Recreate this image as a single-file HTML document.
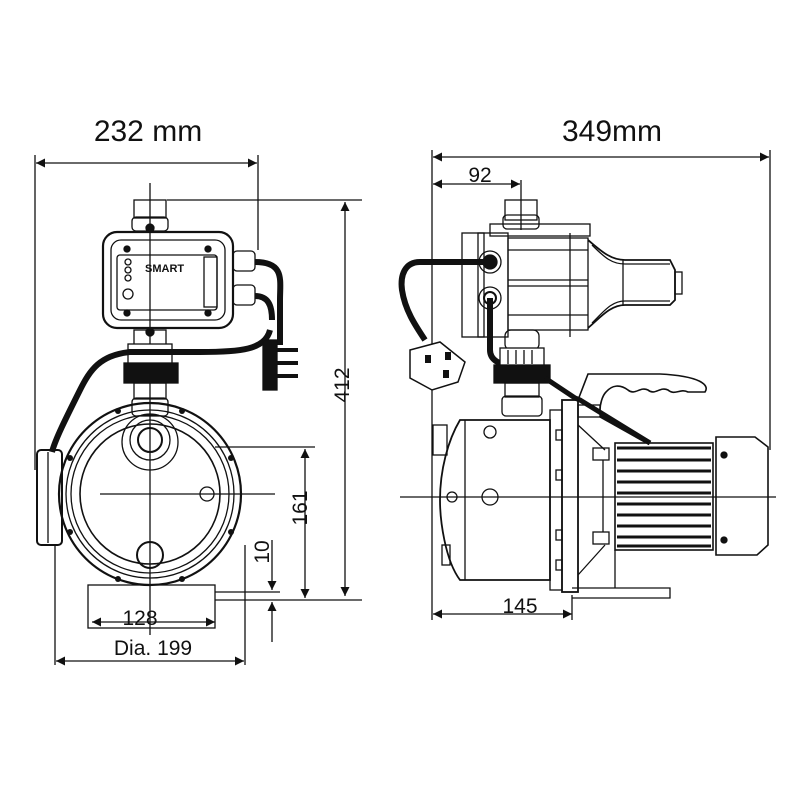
<!DOCTYPE html>
<html><head><meta charset="utf-8"><style>
html,body{margin:0;padding:0;background:#fff;}
svg{display:block}
text{font-family:"Liberation Sans",Arial,sans-serif;fill:#111}
</style></head><body>
<svg width="800" height="800" viewBox="0 0 800 800" xmlns="http://www.w3.org/2000/svg">
<defs>
<marker id="a" viewBox="0 0 10 10" refX="10" refY="5" markerWidth="16" markerHeight="9" markerUnits="userSpaceOnUse" orient="auto-start-reverse"><path d="M0,0L10,5L0,10z" fill="#111"/></marker>
</defs>
<rect width="800" height="800" fill="#fff"/>
<g stroke="#111" stroke-width="1.3" fill="none">
<!-- ===== LEFT VIEW ===== -->
<line x1="35" y1="155" x2="35" y2="470"/>
<line x1="258" y1="155" x2="258" y2="250"/>
<line x1="36" y1="163" x2="257" y2="163" marker-start="url(#a)" marker-end="url(#a)"/>
<line x1="150" y1="183" x2="150" y2="635"/>
<rect x="134" y="200" width="32" height="18"/>
<rect x="132" y="217" width="36" height="14" rx="4"/>
<rect x="103" y="232" width="130" height="96" rx="14" stroke-width="2.2"/>
<rect x="111" y="240" width="114" height="80" rx="10"/>
<rect x="117" y="255" width="100" height="55" rx="3"/>
<rect x="204" y="257" width="13" height="50"/>
<circle cx="128" cy="262" r="3"/><circle cx="128" cy="270" r="3"/><circle cx="128" cy="278" r="3"/><circle cx="128" cy="294" r="5"/>
<text x="145" y="272" font-size="11" font-weight="bold" stroke="none">SMART</text>
<circle cx="127" cy="249" r="3" fill="#111"/><circle cx="208" cy="249" r="3" fill="#111"/><circle cx="127" cy="313" r="3" fill="#111"/><circle cx="208" cy="313" r="3" fill="#111"/>
<circle cx="150" cy="228" r="4" fill="#111"/><circle cx="150" cy="332" r="4" fill="#111"/>
<rect x="233" y="251" width="22" height="20" rx="4"/>
<rect x="233" y="285" width="22" height="20" rx="4"/>
<rect x="134" y="330" width="32" height="15"/>
<rect x="128" y="344" width="44" height="20" fill="#fff"/>
<rect x="124" y="363" width="54" height="20" fill="#111"/>
<rect x="134" y="383" width="32" height="16"/>
<rect x="132" y="398" width="36" height="18" rx="4"/>
<circle cx="150" cy="494" r="91" stroke-width="2.2"/>
<circle cx="150" cy="494" r="84"/>
<circle cx="150" cy="494" r="79"/>
<circle cx="150" cy="494" r="70" stroke-width="1.6"/>
<circle cx="150" cy="440" r="20"/>
<circle cx="150" cy="440" r="12" stroke-width="2"/>
<circle cx="150" cy="442" r="28"/>
<circle cx="150" cy="555" r="13" stroke-width="2"/>
<circle cx="207" cy="494" r="7"/>
<line x1="100" y1="494" x2="275" y2="494"/>
<g fill="#111" stroke="none">
<circle cx="118" cy="411" r="3"/><circle cx="182" cy="411" r="3"/><circle cx="70" cy="458" r="3"/><circle cx="231" cy="458" r="3"/>
<circle cx="70" cy="532" r="3"/><circle cx="231" cy="532" r="3"/><circle cx="118" cy="579" r="3"/><circle cx="182" cy="579" r="3"/>
</g>
<rect x="37" y="450" width="25" height="95" rx="4" stroke-width="2"/>
<line x1="48" y1="452" x2="48" y2="543"/>
<path d="M255,262 C285,262 280,280 280,300 L280,345" stroke-width="6"/>
<path d="M255,296 C268,296 272,305 272,320" stroke-width="6"/>
<path d="M270,330 C265,350 240,352 200,352 L130,352 C100,355 90,370 80,390 C65,420 55,440 52,452" stroke-width="6"/>
<rect x="263" y="340" width="14" height="50" fill="#111"/>
<line x1="277" y1="350" x2="298" y2="350" stroke-width="4"/>
<line x1="277" y1="363" x2="298" y2="363" stroke-width="4"/>
<line x1="277" y1="376" x2="298" y2="376" stroke-width="4"/>
<rect x="88" y="585" width="127" height="43"/>
<line x1="167" y1="200" x2="362" y2="200"/>
<line x1="345" y1="202" x2="345" y2="596" marker-start="url(#a)" marker-end="url(#a)"/>
<line x1="215" y1="600" x2="362" y2="600"/>
<line x1="215" y1="447" x2="315" y2="447"/>
<line x1="305" y1="449" x2="305" y2="598" marker-start="url(#a)" marker-end="url(#a)"/>
<line x1="215" y1="592" x2="280" y2="592"/>
<line x1="272" y1="540" x2="272" y2="590" marker-end="url(#a)"/>
<line x1="272" y1="642" x2="272" y2="602" marker-end="url(#a)"/>
<line x1="92" y1="622" x2="215" y2="622" marker-start="url(#a)" marker-end="url(#a)"/>
<line x1="55" y1="545" x2="55" y2="665"/>
<line x1="245" y1="545" x2="245" y2="665"/>
<line x1="56" y1="661" x2="244" y2="661" marker-start="url(#a)" marker-end="url(#a)"/>

<!-- ===== RIGHT VIEW ===== -->
<line x1="432" y1="150" x2="432" y2="620"/>
<line x1="770" y1="150" x2="770" y2="450"/>
<line x1="433" y1="157" x2="769" y2="157" marker-start="url(#a)" marker-end="url(#a)"/>
<line x1="433" y1="184" x2="520" y2="184" marker-start="url(#a)" marker-end="url(#a)"/>
<line x1="521" y1="180" x2="521" y2="230"/>
<line x1="433" y1="614" x2="572" y2="614" marker-start="url(#a)" marker-end="url(#a)"/>
<line x1="572" y1="595" x2="572" y2="620"/>
<rect x="505" y="200" width="32" height="20"/>
<rect x="503" y="215" width="36" height="14" rx="4"/>
<rect x="490" y="224" width="100" height="12"/>
<rect x="462" y="233" width="22" height="104"/>
<rect x="478" y="233" width="30" height="104"/>
<rect x="508" y="238" width="80" height="92"/>
<line x1="508" y1="250" x2="588" y2="250"/><line x1="508" y1="280" x2="588" y2="280"/><line x1="508" y1="286" x2="588" y2="286"/><line x1="508" y1="315" x2="588" y2="315"/>
<line x1="570" y1="233" x2="570" y2="337"/>
<path d="M588,240 C600,250 610,260 625,260 L670,260 L675,270 L675,300 L670,305 L625,305 C610,305 600,318 588,328" stroke-width="1.8"/>
<path d="M592,245 C605,258 612,264 625,264 L670,264 M592,323 C605,310 612,301 625,301 L670,301"/>
<line x1="623" y1="260" x2="623" y2="305"/>
<rect x="675" y="272" width="7" height="22"/>
<circle cx="490" cy="262" r="11"/><circle cx="490" cy="298" r="11"/>
<circle cx="490" cy="262" r="7" fill="#111"/><circle cx="490" cy="298" r="6" stroke-width="2"/>
<path d="M488,262 L420,262 C405,262 400,275 402,290 C405,310 415,325 425,340" stroke-width="6"/>
<path d="M490,298 L490,350 C490,360 500,365 510,365" stroke-width="6"/>
<path d="M410,350 L440,342 L465,362 L458,382 L432,390 L410,378 Z" stroke-width="1.5" fill="#fff"/>
<rect x="425" y="355" width="6" height="8" fill="#111" stroke="none"/><rect x="445" y="352" width="6" height="8" fill="#111" stroke="none"/><rect x="443" y="370" width="6" height="8" fill="#111" stroke="none"/>
<rect x="505" y="330" width="34" height="20" rx="6"/>
<rect x="500" y="348" width="44" height="18" fill="#fff"/>
<line x1="508" y1="350" x2="508" y2="364"/><line x1="516" y1="350" x2="516" y2="364"/><line x1="524" y1="350" x2="524" y2="364"/><line x1="532" y1="350" x2="532" y2="364"/>
<rect x="494" y="365" width="56" height="18" fill="#111"/>
<rect x="505" y="383" width="34" height="14"/>
<rect x="502" y="396" width="40" height="20" rx="4"/>
<path d="M545,378 L575,398 L580,400 L650,443" stroke-width="5"/>
<path d="M460,420 L550,420 L550,580 L460,580 C445,560 440,520 440,500 C440,470 448,440 460,420 Z" stroke-width="1.8"/>
<line x1="465" y1="420" x2="465" y2="580"/>
<rect x="433" y="425" width="14" height="30"/>
<circle cx="490" cy="432" r="6"/><circle cx="490" cy="497" r="8"/><circle cx="452" cy="497" r="5"/>
<rect x="442" y="545" width="8" height="20"/>
<rect x="550" y="410" width="12" height="180"/>
<rect x="562" y="400" width="16" height="192" stroke-width="1.8"/>
<rect x="556" y="430" width="6" height="10"/><rect x="556" y="560" width="6" height="10"/><rect x="556" y="470" width="6" height="10"/><rect x="556" y="530" width="6" height="10"/>
<path d="M578,400 L588,374 L660,374 C700,376 710,385 705,392 L688,392 C680,388 675,396 668,390 C660,386 655,396 648,390 C640,386 635,396 628,390 C620,384 612,385 606,392 C602,396 600,405 600,410" stroke-width="1.6"/>
<rect x="578" y="405" width="22" height="12"/>
<line x1="600" y1="415" x2="650" y2="443" stroke-width="5"/>
<line x1="578" y1="425" x2="605" y2="450"/><line x1="578" y1="575" x2="605" y2="545"/>
<rect x="593" y="448" width="16" height="12"/><rect x="593" y="532" width="16" height="12"/>
<line x1="603" y1="460" x2="603" y2="532"/>
<rect x="615" y="443" width="98" height="107" stroke-width="1.6"/>
<g stroke-width="3">
<line x1="617" y1="448" x2="711" y2="448"/><line x1="617" y1="460" x2="711" y2="460"/><line x1="617" y1="471" x2="711" y2="471"/><line x1="617" y1="482" x2="711" y2="482"/><line x1="617" y1="493" x2="711" y2="493"/><line x1="617" y1="504" x2="711" y2="504"/><line x1="617" y1="515" x2="711" y2="515"/><line x1="617" y1="526" x2="711" y2="526"/><line x1="617" y1="537" x2="711" y2="537"/><line x1="617" y1="546" x2="711" y2="546"/>
</g>
<path d="M716,437 L755,437 L768,447 L768,545 L757,555 L716,555 Z" stroke-width="1.6"/>
<circle cx="724" cy="455" r="3" fill="#111"/><circle cx="724" cy="540" r="3" fill="#111"/>
<path d="M572,588 L670,588 L670,598 L572,598"/>
<line x1="615" y1="550" x2="615" y2="588"/>
<line x1="400" y1="497" x2="776" y2="497"/>
</g>
<text x="148" y="141" font-size="30" text-anchor="middle">232 mm</text>
<text x="612" y="141" font-size="30" text-anchor="middle">349mm</text>
<text x="480" y="182" font-size="21" text-anchor="middle">92</text>
<text x="520" y="613" font-size="21" text-anchor="middle">145</text>
<text x="140" y="625" font-size="21" text-anchor="middle">128</text>
<text x="153" y="655" font-size="21" text-anchor="middle">Dia. 199</text>
<text transform="translate(349,385) rotate(-90)" font-size="21" text-anchor="middle">412</text>
<text transform="translate(307,508) rotate(-90)" font-size="21" text-anchor="middle">161</text>
<text transform="translate(269,552) rotate(-90)" font-size="21" text-anchor="middle">10</text>
</svg>
</body></html>
